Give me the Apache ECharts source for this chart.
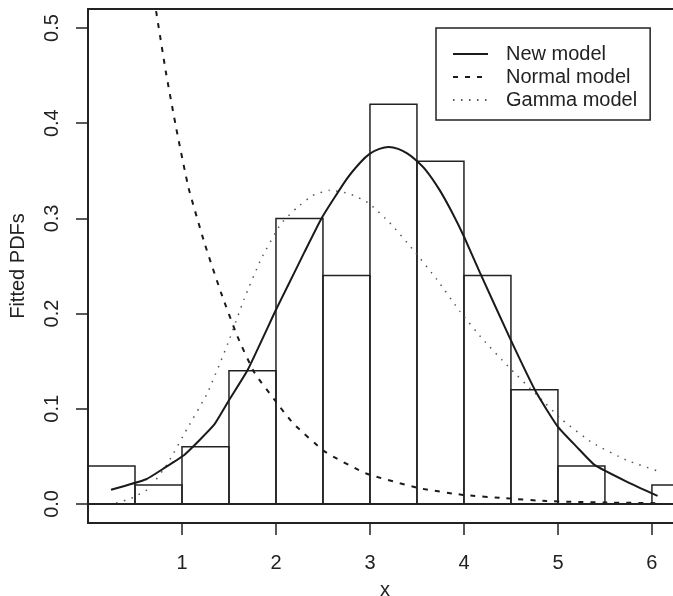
<!DOCTYPE html>
<html>
<head>
<meta charset="utf-8">
<title>Fitted PDFs</title>
<script src="https://cdn.jsdelivr.net/npm/echarts@6/dist/echarts.min.js"></script>
<style>
  html, body { margin: 0; padding: 0; background: #fff; }
  #chart { width: 673px; height: 596px; }
</style>
</head>
<body>
<div id="chart"></div>
<script>
// histogram bins: [from, to, density]
const bins = [
  [0.0, 0.5, 0.04], [0.5, 1.0, 0.02], [1.0, 1.5, 0.06], [1.5, 2.0, 0.14],
  [2.0, 2.5, 0.30], [2.5, 3.0, 0.24], [3.0, 3.5, 0.42], [3.5, 4.0, 0.36],
  [4.0, 4.5, 0.24], [4.5, 5.0, 0.12], [5.0, 5.5, 0.04], [5.5, 6.0, 0.00],
  [6.0, 6.5, 0.02]
];

// curves: [x, density]
const newModel = [
  [0.245, 0.015], [0.62, 0.026], [0.8, 0.037], [1.03, 0.052], [1.34, 0.083],
  [1.5, 0.109], [1.7, 0.141], [2.0, 0.204], [2.125, 0.229], [2.3, 0.264],
  [2.49, 0.301], [2.75, 0.341], [2.9, 0.359], [3.0, 0.368], [3.1, 0.373],
  [3.2, 0.375], [3.3, 0.373], [3.4, 0.368], [3.49, 0.361], [3.6, 0.350],
  [3.74, 0.330], [3.87, 0.307], [4.0, 0.281], [4.17, 0.243], [4.49, 0.174],
  [4.77, 0.117], [5.0, 0.081], [5.2, 0.060], [5.39, 0.041], [5.73, 0.0235],
  [6.06, 0.0085]
];
const normalModel = [
  [0.705, 0.53], [0.83, 0.453], [0.94, 0.394], [1.07, 0.332], [1.24, 0.274],
  [1.415, 0.222], [1.59, 0.176], [1.77, 0.138], [1.98, 0.11], [2.18, 0.085],
  [2.52, 0.055], [2.96, 0.032], [3.53, 0.0165], [3.99, 0.0095], [4.45, 0.006],
  [4.88, 0.003], [5.5, 0.0015], [6.1, 0.0008]
];
const gammaModel = [
  [0.3, 0.001], [0.46, 0.006], [0.65, 0.0165], [0.85, 0.043], [1.06, 0.080],
  [1.27, 0.1165], [1.49, 0.169], [1.66, 0.215], [1.84, 0.257], [2.05, 0.294],
  [2.22, 0.311], [2.39, 0.324], [2.57, 0.3295], [2.78, 0.326], [2.98, 0.3165],
  [3.21, 0.2955], [3.46, 0.267], [3.71, 0.236], [3.96, 0.202], [4.2, 0.173],
  [4.47, 0.1445], [4.77, 0.115], [5.05, 0.088], [5.37, 0.064], [5.73, 0.046],
  [6.05, 0.035]
];

const xTicks = [1, 2, 3, 4, 5, 6];
const yTicks = [0, 0.1, 0.2, 0.3, 0.4, 0.5];

const ink = "#222";
const font = "'Liberation Sans', Arial, sans-serif";

const getOption = () => {
  return {
    animation: false,
    textStyle: { fontFamily: font, color: ink },
    grid: { left: 88, top: 9, width: 594, bottom: 73, outerBoundsMode: "none", containLabel: false },
    legend: {
      orient: "vertical",
      left: 436,
      top: 28,
      padding: [16, 13, 10, 16],
      itemGap: 3,
      itemWidth: 35,
      itemHeight: 14,
      borderColor: ink,
      borderWidth: 1.5,
      borderRadius: 0,
      itemStyle: { color: "rgba(0,0,0,0)", borderWidth: 0, opacity: 0 },
      textStyle: { fontSize: 20, color: ink, padding: [0, 0, 0, 13], lineHeight: 20 },
      data: ["New model", "Normal model", "Gamma model"]
    },
    xAxis: [
      {
        type: "value",
        min: 0,
        max: 6.32,
        name: "x",
        nameLocation: "middle",
        nameGap: 57,
        nameTextStyle: { fontSize: 20, color: ink },
        axisLine: { show: true, onZero: false, lineStyle: { color: ink, width: 2 } },
        axisTick: { show: true, length: 12, customValues: xTicks, lineStyle: { color: ink, width: 1.5 } },
        axisLabel: { fontSize: 20, color: ink, margin: 30, customValues: xTicks },
        splitLine: { show: false }
      },
      {
        type: "value",
        position: "top",
        min: 0,
        max: 6.32,
        axisLine: { show: true, onZero: false, lineStyle: { color: ink, width: 2 } },
        axisTick: { show: false },
        axisLabel: { show: false },
        splitLine: { show: false }
      }
    ],
    yAxis: {
      type: "value",
      min: -0.02,
      max: 0.52,
      name: "Fitted PDFs",
      nameLocation: "middle",
      nameGap: 60,
      nameTextStyle: { fontSize: 20, color: ink },
      axisLine: { show: true, onZero: false, lineStyle: { color: ink, width: 2 } },
      axisTick: { show: true, length: 12, customValues: yTicks, lineStyle: { color: ink, width: 1.5 } },
      axisLabel: {
        fontSize: 20, color: ink, margin: 26, rotate: 90,
        customValues: yTicks,
        formatter: (v) => v.toFixed(1)
      },
      splitLine: { show: false }
    },
    series: [
      {
        type: "custom",
        name: "hist",
        data: bins,
        encode: { x: [0, 1], y: 2 },
        renderItem: (params, api) => {
          const h = api.value(2);
          if (h <= 0) return null;
          const p0 = api.coord([api.value(0), h]);
          const p1 = api.coord([api.value(1), 0]);
          return {
            type: "rect",
            shape: { x: p0[0], y: p0[1], width: p1[0] - p0[0], height: p1[1] - p0[1] },
            style: { fill: "none", stroke: ink, lineWidth: 1.5 }
          };
        },
        markLine: {
          silent: true,
          symbol: "none",
          label: { show: false },
          lineStyle: { color: ink, width: 2, type: "solid" },
          data: [{ yAxis: 0 }]
        },
        z: 1
      },
      {
        type: "line",
        name: "New model",
        data: newModel,
        symbol: "none",
        smooth: 0.15,
        lineStyle: { color: "#1a1a1a", width: 2, type: "solid" },
        itemStyle: { color: "#1a1a1a" },
        z: 3
      },
      {
        type: "line",
        name: "Normal model",
        data: normalModel,
        symbol: "none",
        smooth: 0.15,
        clip: true,
        lineStyle: { color: "#1a1a1a", width: 2, type: [5, 7] },
        itemStyle: { color: "#1a1a1a" },
        z: 3
      },
      {
        type: "line",
        name: "Gamma model",
        data: gammaModel,
        symbol: "none",
        smooth: 0.15,
        lineStyle: { color: "#555", width: 1.5, type: [1.5, 6.5] },
        itemStyle: { color: "#555" },
        z: 2
      }
    ]
  };
};

const chart = echarts.init(document.querySelector("#chart"));
chart.setOption(getOption());
</script>
</body>
</html>
